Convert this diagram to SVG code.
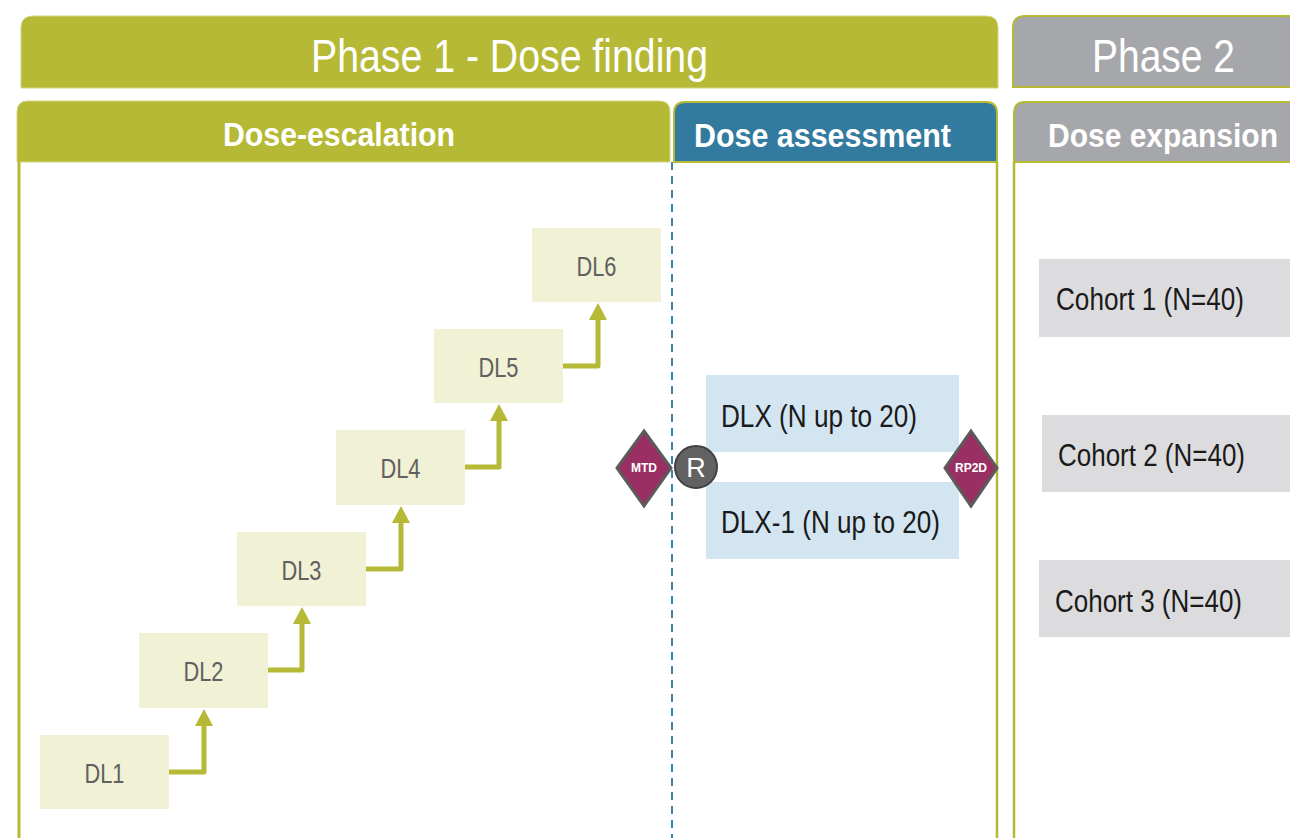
<svg xmlns="http://www.w3.org/2000/svg" width="1290" height="838" viewBox="0 0 1290 838">
<style>
.hdrtxt{font-family:"Liberation Sans",Arial,sans-serif;fill:#ffffff}
.big{font-size:47px}
.sub{font-size:33px;font-weight:bold}
.dl rect{fill:#f0f1d5}
.dl text{font-family:"Liberation Sans",Arial,sans-serif;font-size:27px;fill:#606060;text-anchor:middle}
.arm rect{fill:#d3e5f1}
.arm text,.coh text{font-family:"Liberation Sans",Arial,sans-serif;font-size:31px;fill:#1a1a1a}
.coh rect{fill:#dcdcde}
.dia{fill:#9a2f63;stroke:#5b5b5b;stroke-width:3}
.diat{font-family:"Liberation Sans",Arial,sans-serif;font-size:12px;font-weight:bold;fill:#ffffff;text-anchor:middle}
.conn{fill:none;stroke:#b5b935;stroke-width:5;stroke-linejoin:round}
.border{stroke:#b5b935;stroke-width:2.5;fill:none}
</style>
<defs>
<marker id="ah" markerUnits="userSpaceOnUse" markerWidth="18" markerHeight="18" viewBox="0 0 18 18" refX="1" refY="9" orient="auto">
<path d="M0,0 L17,9 L0,18 z" fill="#b5b935"/>
</marker>
</defs>
<rect width="1290" height="838" fill="#ffffff"/>

<g id="phase1-header">
<path d="M21,88 V28 Q21,16 33,16 H986 Q998,16 998,28 V88 Z" fill="#b5b935" stroke="#d2d480" stroke-width="1"/>
<text class="hdrtxt big" x="311" y="72" textLength="397" lengthAdjust="spacingAndGlyphs">Phase 1 - Dose finding</text>
</g>
<g id="phase2-header">
<path d="M1013,87 V28 Q1013,16 1025,16 H1302 V87 Z" fill="#a6a7aa" stroke="#b5b935" stroke-width="2"/>
<text class="hdrtxt big" x="1092" y="72" textLength="143" lengthAdjust="spacingAndGlyphs">Phase 2</text>
</g>

<g id="dose-escalation">
<path d="M17,162 V112 Q17,101 28,101 H659 Q670,101 670,112 V162 Z" fill="#b5b935" stroke="#d2d480" stroke-width="1"/>
<text class="hdrtxt sub" x="223" y="146" textLength="232" lengthAdjust="spacingAndGlyphs">Dose-escalation</text>
<line x1="19" y1="162" x2="19" y2="840" stroke="#b5b935" stroke-width="3"/>
</g>

<g id="dose-assessment">
<path d="M674,162 V113 Q674,102 685,102 H986 Q997,102 997,113 V162 Z" fill="#337a9f" stroke="#b5b935" stroke-width="2"/>
<text class="hdrtxt sub" x="694" y="147" textLength="257" lengthAdjust="spacingAndGlyphs">Dose assessment</text>
<line x1="997" y1="162" x2="997" y2="840" class="border"/>
<line x1="672" y1="162" x2="672" y2="840" stroke="#3a85b0" stroke-width="2" stroke-dasharray="8,6"/>
</g>

<g id="dose-expansion">
<path d="M1014,162 V113 Q1014,102 1025,102 H1302 V162 Z" fill="#a6a7aa" stroke="#b5b935" stroke-width="2"/>
<text class="hdrtxt sub" x="1048" y="147" textLength="230" lengthAdjust="spacingAndGlyphs">Dose expansion</text>
<line x1="1014" y1="162" x2="1014" y2="840" class="border"/>
</g>

<g id="DL1" class="dl"><rect x="40" y="735" width="129" height="74"/><text x="104.5" y="783" textLength="40" lengthAdjust="spacingAndGlyphs">DL1</text></g>
<g id="DL2" class="dl"><rect x="139" y="633" width="129" height="75"/><text x="203.5" y="681" textLength="40" lengthAdjust="spacingAndGlyphs">DL2</text></g>
<g id="DL3" class="dl"><rect x="237" y="532" width="129" height="74"/><text x="301.5" y="580" textLength="40" lengthAdjust="spacingAndGlyphs">DL3</text></g>
<g id="DL4" class="dl"><rect x="336" y="430" width="129" height="75"/><text x="400.5" y="478" textLength="40" lengthAdjust="spacingAndGlyphs">DL4</text></g>
<g id="DL5" class="dl"><rect x="434" y="329" width="129" height="74"/><text x="498.5" y="377" textLength="40" lengthAdjust="spacingAndGlyphs">DL5</text></g>
<g id="DL6" class="dl"><rect x="532" y="228" width="129" height="74"/><text x="596.5" y="276" textLength="40" lengthAdjust="spacingAndGlyphs">DL6</text></g>

<g id="connectors">
<path class="conn" d="M169,772 H204 V725" marker-end="url(#ah)"/>
<path class="conn" d="M268,670 H302 V623" marker-end="url(#ah)"/>
<path class="conn" d="M366,569 H401 V522" marker-end="url(#ah)"/>
<path class="conn" d="M465,467 H499 V420" marker-end="url(#ah)"/>
<path class="conn" d="M563,366 H598 V319" marker-end="url(#ah)"/>
</g>

<g id="DLX" class="arm"><rect x="706" y="375" width="253" height="77"/><text x="721" y="427" textLength="196" lengthAdjust="spacingAndGlyphs">DLX (N up to 20)</text></g>
<g id="DLX-1" class="arm"><rect x="706" y="482" width="253" height="77"/><text x="721" y="533" textLength="219" lengthAdjust="spacingAndGlyphs">DLX-1 (N up to 20)</text></g>

<g id="MTD"><polygon class="dia" points="644,431 671,468 644,506 617,468"/><text class="diat" x="644" y="472">MTD</text></g>
<g id="R"><circle cx="696" cy="467" r="21" fill="#626262" stroke="#404040" stroke-width="2"/><text x="696" y="476.5" font-family="'Liberation Sans',Arial,sans-serif" font-size="27" fill="#ffffff" text-anchor="middle">R</text></g>
<g id="RP2D"><polygon class="dia" points="971,431 997,468 971,506 945,468"/><text class="diat" x="971" y="472">RP2D</text></g>

<g id="cohort1" class="coh"><rect x="1039" y="259" width="260" height="78"/><text x="1056" y="310" textLength="188" lengthAdjust="spacingAndGlyphs">Cohort 1 (N=40)</text></g>
<g id="cohort2" class="coh"><rect x="1042" y="415" width="260" height="77"/><text x="1058" y="466" textLength="187" lengthAdjust="spacingAndGlyphs">Cohort 2 (N=40)</text></g>
<g id="cohort3" class="coh"><rect x="1039" y="560" width="260" height="77"/><text x="1055" y="612" textLength="187" lengthAdjust="spacingAndGlyphs">Cohort 3 (N=40)</text></g>
</svg>
